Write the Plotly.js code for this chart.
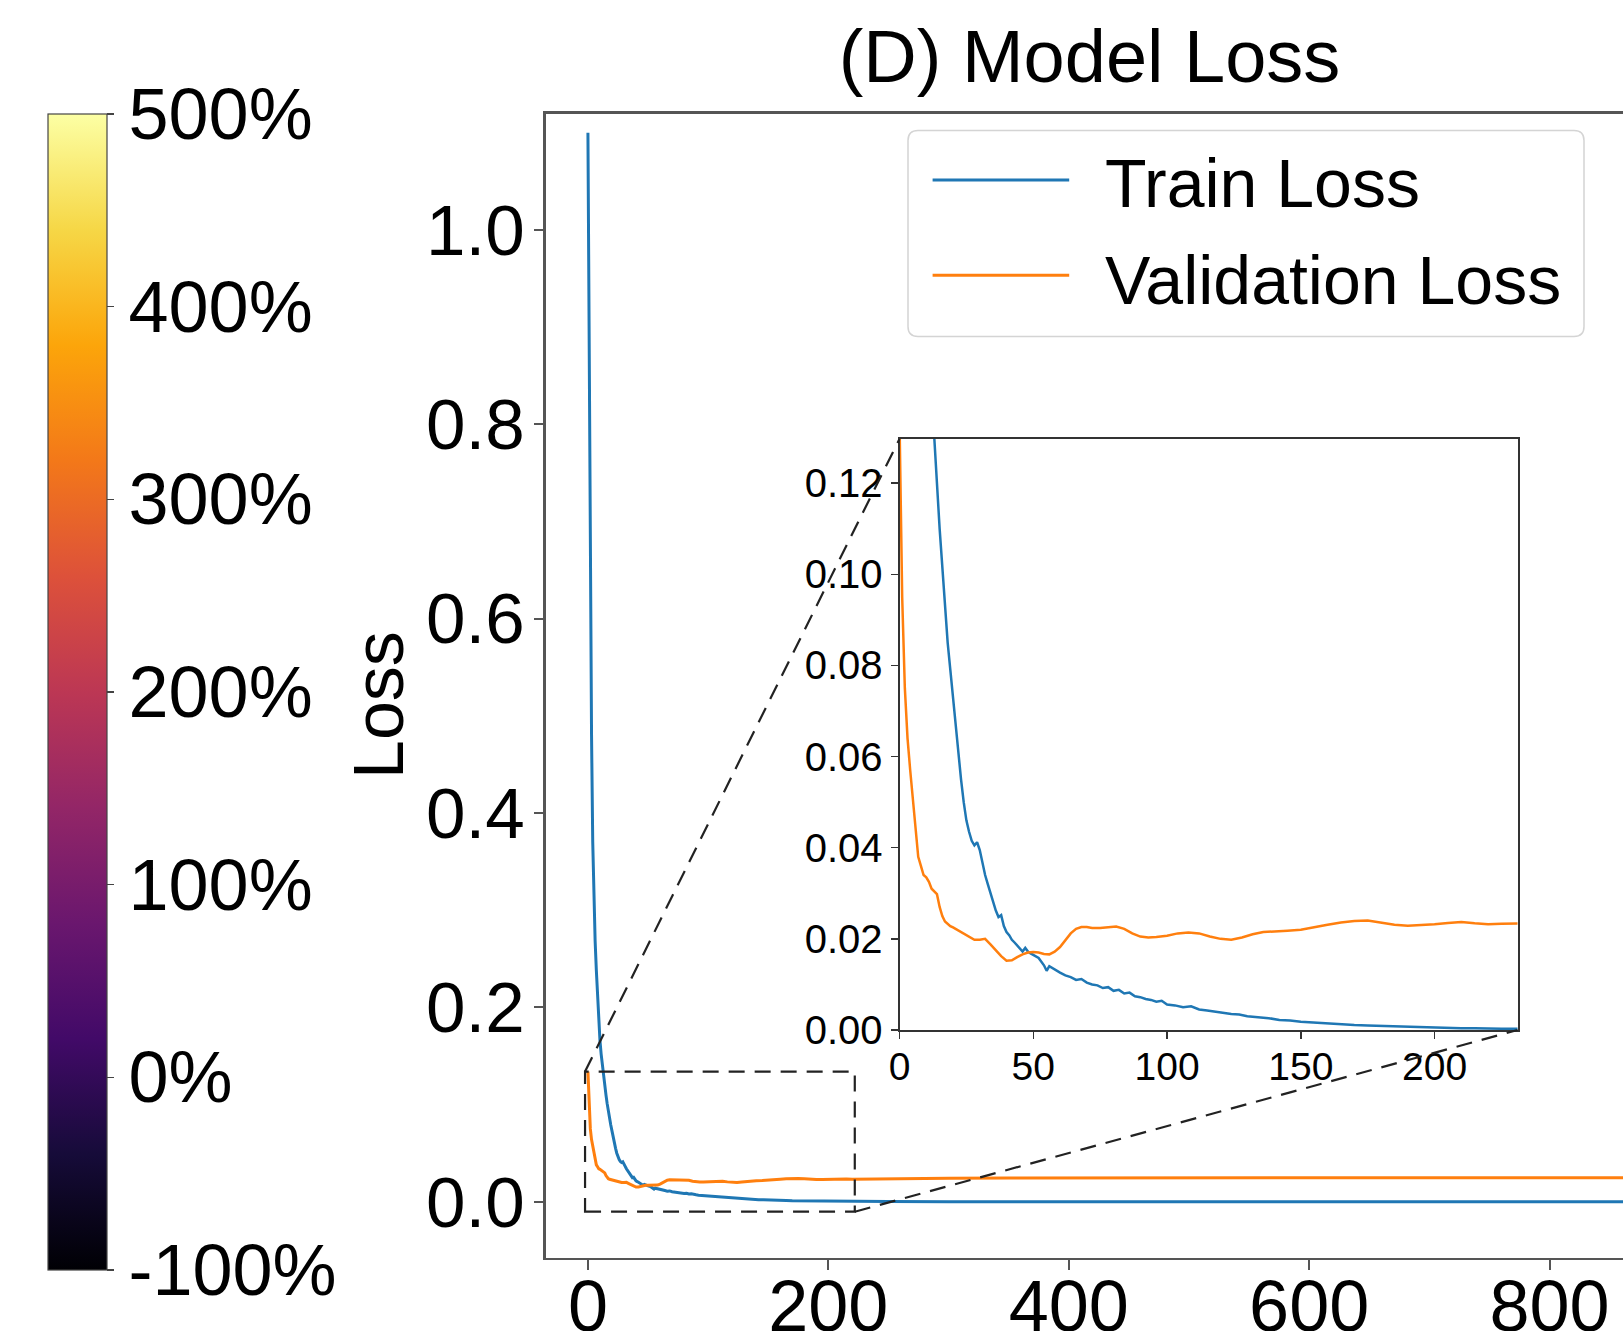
<!DOCTYPE html>
<html>
<head>
<meta charset="utf-8">
<script src="https://cdn.plot.ly/plotly-3.0.1.min.js"></script>
<style>
  html, body { margin: 0; padding: 0; background: #fff; }
  #chart { width: 1623px; height: 1331px; }
</style>
</head>
<body>
<div id="chart"></div>
<script>
// ---------------- DATA ----------------
const trainEpochs = [0,1,2,3,4,5,6,7,8,9,10,11,12,13,14,15,16,17,18,19,20,21,22,23,24,25,26,27,28,29,30,31,32,33,34,35,36,37,38,39,40,41,42,43,44,45,46,47,48,49,50,52,54,55,56,58,60,62,64,66,68,70,72,74,76,78,80,82,84,86,88,90,92,94,96,98,100,103,106,109,112,115,118,121,124,127,130,134,138,142,146,150,155,160,165,170,175,180,185,190,195,200,205,210,215,220,225,230,250,300,400,500,600,700,800,900,1000];
const trainLoss = [1.100,0.850,0.640,0.480,0.370,0.305,0.268,0.238,0.212,0.188,0.166,0.152,0.140,0.131,0.120,0.110,0.101,0.092,0.085,0.079,0.073,0.066,0.060,0.055,0.050,0.046,0.0435,0.0415,0.0405,0.0412,0.0395,0.0365,0.0340,0.0320,0.0300,0.0278,0.0262,0.0248,0.0252,0.0228,0.0215,0.0208,0.0198,0.0192,0.0185,0.0178,0.0172,0.0180,0.0172,0.0168,0.0165,0.0158,0.0142,0.0130,0.0140,0.0132,0.0126,0.0120,0.0116,0.0110,0.0112,0.0104,0.0100,0.0098,0.0092,0.0094,0.0086,0.0088,0.0080,0.0082,0.0074,0.0072,0.0068,0.0066,0.0062,0.0064,0.0056,0.0054,0.0050,0.0052,0.0045,0.0043,0.0040,0.0038,0.0035,0.0034,0.0030,0.0028,0.0026,0.0022,0.0021,0.0018,0.0016,0.0014,0.0013,0.0011,0.0010,0.0009,0.0008,0.0007,0.0006,0.0005,0.0005,0.0004,0.0004,0.0003,0.0003,0.0003,0.0002,0.0001,0.0001,0.0001,0.0001,0.0001,0.0001,0.0001,0.0001];

const valEpochs = [0,1,2,3,4,5,6,7,8,9,10,11,12,13,14,15,16,17,18,19,20,22,24,26,28,30,32,34,36,38,40,42,44,46,48,50,52,54,56,58,60,62,64,66,68,70,72,75,78,81,84,87,90,93,96,100,104,108,112,116,120,124,128,132,136,140,145,150,155,160,165,170,175,180,185,190,195,200,205,210,215,220,225,230,260,300,350,400,450,500,550,600,650,700,750,800,850,900,1000];
const valLoss = [0.134,0.095,0.075,0.064,0.057,0.051,0.044,0.038,0.036,0.034,0.0335,0.0325,0.031,0.0305,0.0298,0.027,0.025,0.0238,0.0232,0.0228,0.0225,0.0218,0.0212,0.0205,0.0198,0.0198,0.0200,0.0188,0.0175,0.0162,0.0152,0.0153,0.0160,0.0166,0.0170,0.0171,0.0170,0.0167,0.0166,0.0172,0.0182,0.0198,0.0212,0.0222,0.0226,0.0226,0.0224,0.0224,0.0226,0.0227,0.0222,0.0212,0.0205,0.0203,0.0204,0.0207,0.0212,0.0214,0.0212,0.0205,0.0200,0.0198,0.0203,0.0210,0.0215,0.0217,0.0218,0.0220,0.0226,0.0231,0.0236,0.0239,0.0240,0.0236,0.0231,0.0229,0.0230,0.0232,0.0235,0.0237,0.0234,0.0232,0.0233,0.0234,0.0240,0.0243,0.0244,0.0246,0.0247,0.0246,0.0245,0.0248,0.0247,0.0246,0.0245,0.0247,0.0246,0.0247,0.0246];

const seriesNames = ["Train Loss", "Validation Loss"];
const mainXTicks = [0, 200, 400, 600, 800];
const mainYTicks = [0.0, 0.2, 0.4, 0.6, 0.8, 1.0];
const insetXTicks = [0, 50, 100, 150, 200];
const insetYTicks = [0.00, 0.02, 0.04, 0.06, 0.08, 0.10, 0.12];
const cbarTickVals = [-100, 0, 100, 200, 300, 400, 500];
const cbarTickText = ["-100%", "0%", "100%", "200%", "300%", "400%", "500%"];
const zoomBoxX = [-2.4, 222];
const zoomBoxY = [-0.0102, 0.134];
const titleText = "(D) Model Loss";
const yTitleText = "Loss";

// ---------------- STYLE / LAYOUT ----------------
const W = 1623, H = 1331;
const px = x => x / W;
const py = y => 1 - y / H;
const FONT = "Liberation Sans, Arial, Helvetica, sans-serif";
const BLUE = "#1f77b4", ORANGE = "#ff7f0e";

const mainXDom = [px(545.5), 1];
const mainYDom = [py(1257.6), py(113.9)];
const mainXRange = [-35.3, 861.1];
const mainYRange = [-0.0574, 1.1193];
const insXDom = [px(899.5), px(1517.5)];
const insYDom = [py(1030), py(438.9)];
const insXRange = [0, 231];
const insYRange = [0, 0.1297];

const infernoScale = [
  [0.0, "#000004"], [0.1, "#160b39"], [0.2, "#420a68"], [0.3, "#6a176e"],
  [0.4, "#932667"], [0.5, "#bc3754"], [0.6, "#dd513a"], [0.7, "#f37819"],
  [0.8, "#fca50a"], [0.9, "#f6d746"], [1.0, "#fcffa4"]
];

// map main-axis data to paper coordinates (for connector lines)
const mx = v => mainXDom[0] + (v - mainXRange[0]) / (mainXRange[1] - mainXRange[0]) * (mainXDom[1] - mainXDom[0]);
const my = v => mainYDom[0] + (v - mainYRange[0]) / (mainYRange[1] - mainYRange[0]) * (mainYDom[1] - mainYDom[0]);

const traces = [
  { x: trainEpochs, y: trainLoss, name: seriesNames[0], type: "scatter", mode: "lines",
    line: { color: BLUE, width: 3 }, xaxis: "x", yaxis: "y", showlegend: false },
  { x: valEpochs, y: valLoss, name: seriesNames[1], type: "scatter", mode: "lines",
    line: { color: ORANGE, width: 3 }, xaxis: "x", yaxis: "y", showlegend: false },
  { x: trainEpochs, y: trainLoss, name: seriesNames[0] + " (zoom)", type: "scatter", mode: "lines",
    line: { color: BLUE, width: 2.5 }, xaxis: "x2", yaxis: "y2", showlegend: false },
  { x: valEpochs, y: valLoss, name: seriesNames[1] + " (zoom)", type: "scatter", mode: "lines",
    line: { color: ORANGE, width: 2.5 }, xaxis: "x2", yaxis: "y2", showlegend: false },
  // colour bar carrier (points lie outside the visible range)
  { x: [-500], y: [-5], type: "scatter", mode: "markers", xaxis: "x", yaxis: "y",
    showlegend: false, hoverinfo: "skip",
    marker: { color: [0], colorscale: infernoScale, cmin: -100, cmax: 500, showscale: true,
      colorbar: {
        x: px(47.6), xanchor: "left", xref: "paper", xpad: 0, ypad: 0,
        y: py((113.9 + 1270) / 2), yanchor: "middle", yref: "paper",
        len: (1270 - 113.9) / H, lenmode: "fraction",
        thickness: 59, thicknessmode: "pixels",
        outlinewidth: 1.2, outlinecolor: "#444",
        tickmode: "array", tickvals: cbarTickVals, ticktext: cbarTickText,
        ticks: "outside", ticklen: 7, tickwidth: 1.5, tickcolor: "#444",
        tickfont: { family: FONT, size: 72, color: "#000" }
      } } }
];

// legend drawn by hand (long line samples like the reference)
const lgX0 = px(908), lgX1 = px(1584), lgY0 = py(336.4), lgY1 = py(130.4);
const rx = 10 / W, ry = 10 / H;
const legendPath = `M ${lgX0+rx},${lgY1} L ${lgX1-rx},${lgY1} Q ${lgX1},${lgY1} ${lgX1},${lgY1-ry} ` +
  `L ${lgX1},${lgY0+ry} Q ${lgX1},${lgY0} ${lgX1-rx},${lgY0} L ${lgX0+rx},${lgY0} ` +
  `Q ${lgX0},${lgY0} ${lgX0},${lgY0+ry} L ${lgX0},${lgY1-ry} Q ${lgX0},${lgY1} ${lgX0+rx},${lgY1} Z`;

const dashLine = { color: "#222", width: 2.2, dash: "16px,10px" };

const shapes = [
  { type: "rect", xref: "x", yref: "y", x0: zoomBoxX[0], x1: zoomBoxX[1], y0: zoomBoxY[0], y1: zoomBoxY[1],
    line: dashLine, fillcolor: "rgba(0,0,0,0)", layer: "above" },
  { type: "line", xref: "paper", yref: "paper", x0: mx(zoomBoxX[0]), y0: my(zoomBoxY[1]),
    x1: insXDom[0], y1: insYDom[1], line: dashLine, layer: "above" },
  { type: "line", xref: "paper", yref: "paper", x0: mx(zoomBoxX[1]), y0: my(zoomBoxY[0]),
    x1: insXDom[1], y1: insYDom[0], line: dashLine, layer: "above" },
  { type: "path", xref: "paper", yref: "paper", path: legendPath,
    line: { color: "#d4d4d4", width: 1.5 }, fillcolor: "rgba(255,255,255,0.85)", layer: "above" },
  { type: "line", xref: "paper", yref: "paper", x0: px(932.6), x1: px(1069.2), y0: py(180.1), y1: py(180.1),
    line: { color: BLUE, width: 3 }, layer: "above" },
  { type: "line", xref: "paper", yref: "paper", x0: px(932.6), x1: px(1069.2), y0: py(275.3), y1: py(275.3),
    line: { color: ORANGE, width: 3 }, layer: "above" }
];

const annotations = [
  { text: seriesNames[0], xref: "paper", yref: "paper", x: px(1103), y: py(183), xanchor: "left", yanchor: "middle",
    showarrow: false, font: { family: FONT, size: 68, color: "#000" } },
  { text: seriesNames[1], xref: "paper", yref: "paper", x: px(1103), y: py(280), xanchor: "left", yanchor: "middle",
    showarrow: false, font: { family: FONT, size: 68, color: "#000" } },
  { text: yTitleText, xref: "paper", yref: "paper", x: px(379), y: py(705), xanchor: "center", yanchor: "middle",
    textangle: -90, showarrow: false, font: { family: FONT, size: 70, color: "#000" } }
];

const axisCommon = { showgrid: false, zeroline: false, showline: true, ticks: "outside", fixedrange: true };

const layout = {
  width: W, height: H,
  margin: { l: 0, r: 0, t: 0, b: 0, pad: 0 },
  paper_bgcolor: "#fff", plot_bgcolor: "#fff",
  showlegend: false,
  title: { text: titleText, x: px(1089.5), y: py(56), xref: "paper", yref: "paper",
    xanchor: "center", yanchor: "middle", font: { family: FONT, size: 74, color: "#000" } },
  xaxis: Object.assign({}, axisCommon, {
    domain: mainXDom, range: mainXRange, anchor: "y", mirror: true,
    linecolor: "#555", linewidth: 2.5, ticklen: 10, tickwidth: 2, tickcolor: "#555",
    tickmode: "array", tickvals: mainXTicks, ticklabelstandoff: -26,
    tickfont: { family: FONT, size: 72, color: "#000" }
  }),
  yaxis: Object.assign({}, axisCommon, {
    domain: mainYDom, range: mainYRange, anchor: "x", mirror: false,
    linecolor: "#555", linewidth: 2.5, ticklen: 9, tickwidth: 2, tickcolor: "#555",
    tickmode: "array", tickvals: mainYTicks, tickformat: ".1f", ticklabelstandoff: -5,
    tickfont: { family: FONT, size: 71, color: "#000" }
  }),
  xaxis2: Object.assign({}, axisCommon, {
    domain: insXDom, range: insXRange, anchor: "y2", mirror: true,
    linecolor: "#333", linewidth: 2, ticklen: 7, tickwidth: 1.5, tickcolor: "#333",
    tickmode: "array", tickvals: insetXTicks, ticklabelstandoff: -6,
    tickfont: { family: FONT, size: 39, color: "#000" }
  }),
  yaxis2: Object.assign({}, axisCommon, {
    domain: insYDom, range: insYRange, anchor: "x2", mirror: true,
    linecolor: "#333", linewidth: 2, ticklen: 7, tickwidth: 1.5, tickcolor: "#333",
    tickmode: "array", tickvals: insetYTicks, tickformat: ".2f",
    tickfont: { family: FONT, size: 40, color: "#000" }
  }),
  shapes: shapes,
  annotations: annotations
};

Plotly.newPlot("chart", traces, layout, { staticPlot: true, displayModeBar: false });
</script>
</body>
</html>
